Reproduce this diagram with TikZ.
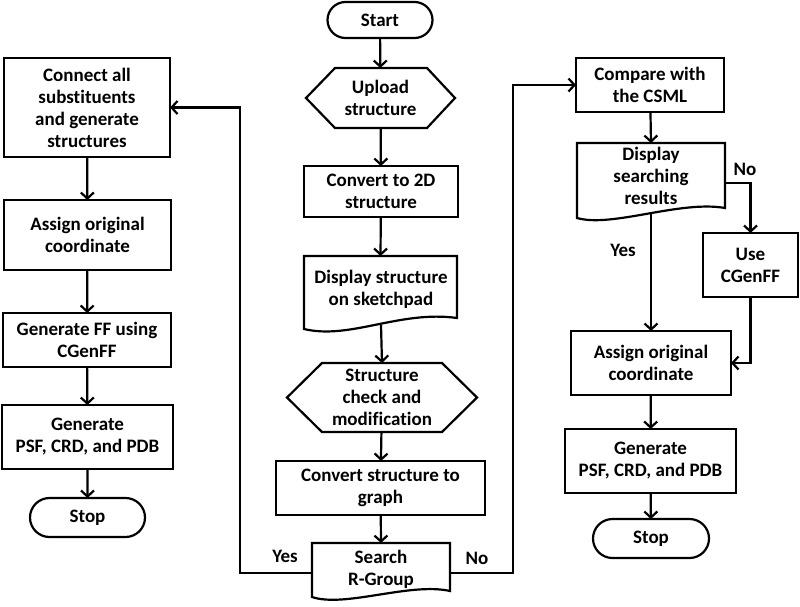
\documentclass[tikz,border=0pt]{standalone}
\usepackage{fontspec}
\setmainfont{Carlito}[Ligatures=CommonOff]
\usetikzlibrary{arrows.meta,shapes.misc}
\begin{document}
\begin{tikzpicture}[x=1pt,y=-1pt,
  every node/.style={font=\bfseries\fontsize{19}{22}\selectfont, align=center, inner sep=0pt, outer sep=0pt},
  box/.style 2 args={draw, line width=2.2pt, rectangle, minimum width=#1pt, minimum height=#2pt},
  term/.style 2 args={draw, line width=2.2pt, rounded rectangle, minimum width=#1pt, minimum height=#2pt},
  area/.style 2 args={rectangle, minimum width=#1pt, minimum height=#2pt},
  outline/.style={line width=2.2pt, line join=miter},
  conn/.style={line width=2.2pt, -{Straight Barb[length=6pt,width=13pt,line width=2.2pt]}},
  lab/.style={font=\bfseries\fontsize{19}{22}\selectfont}
]
\useasboundingbox (0,0) rectangle (800,606);

% ---------- centre column ----------
\node[term={105}{36}] (start) at (380,20) {Start};

\node[area={149}{60}] (upload) at (380.5,98) {Upload\\structure};
\draw[outline] (306,98) -- (335,68) -- (427,68) -- (455,98) -- (427,128) -- (335,128) -- cycle;

\node[box={154}{51}] (conv) at (381,191.5) {Convert to 2D\\structure};

\node[area={153}{73}] (disp) at (380.5,292.5) {};
\node[lab] (disptext) at (381,289) {Display structure\\on sketchpad};
\draw[outline] (304,329) -- (304,256) -- (457,256) -- (457,318)
  .. controls (400,310) and (350,340) .. cycle;
\coordinate (dispB) at (381,325);

\node[area={190}{69}] (check) at (382,397.5) {Structure\\check and\\modification};
\draw[outline] (287,397.5) -- (322,363) -- (442,363) -- (477,397.5) -- (442,432) -- (322,432) -- cycle;

\node[box={209}{54}] (graph) at (380.5,488) {Convert structure to\\graph};

\node[area={138}{54}] (search) at (381,570) {};
\node[lab] (searchtext) at (381,569) {Search\\R-Group};
\draw[outline] (312,597) -- (312,543) -- (450,543) -- (450,591)
  .. controls (410,582) and (345,608) .. cycle;

\coordinate (yesc) at (240,573);
\coordinate (noc) at (513,573);

% ---------- left column ----------
\node[box={166}{99}] (connect) at (87,107.5) {Connect all\\substituents\\and generate\\structures};
\node[box={167}{70}] (assignL) at (87.5,235) {Assign original\\coordinate};
\node[box={168}{54}] (genff) at (87,340) {Generate FF using\\CGenFF};
\node[box={171}{64}] (genL) at (87.5,437) {Generate\\PSF, CRD, and PDB};
\node[term={115}{39}] (stopL) at (87.5,517.5) {Stop};

% ---------- right column ----------
\node[box={148}{54}] (compare) at (650,85) {Compare with\\the CSML};

\node[area={148}{75}] (dispR) at (651,180.5) {};
\node[lab] (dispRtext) at (651,176) {Display\\searching\\results};
\draw[outline] (577,218) -- (577,143) -- (725,143) -- (725,208)
  .. controls (680,200) and (612,228) .. cycle;
\coordinate (dispRB) at (651,214);
\coordinate (dispRE) at (725,183);

\node[box={95}{64}] (use) at (750.5,265) {Use\\CGenFF};
\node[box={160}{64}] (assignR) at (651,363) {Assign original\\coordinate};
\node[box={171}{64}] (genR) at (650.5,461) {Generate\\PSF, CRD, and PDB};
\node[term={116}{39}] (stopR) at (651,538.5) {Stop};

% ---------- connectors ----------
\draw[conn] (start) -- (upload);
\draw[conn] (upload) -- (conv);
\draw[conn] (conv) -- (disp.north);
\draw[conn] (dispB) -- (check.north);
\draw[conn] (check) -- (graph);
\draw[conn] (graph) -- (search.north);

\draw[conn] (search.west |- yesc) -- (yesc) |- (connect.east);
\node[lab] (yes1) at (285,556) {Yes};
\draw[conn] (search.east |- noc) -- (noc) |- (compare.west);
\node[lab] (no1) at (477,558) {No};

\draw[conn] (connect) -- (assignL);
\draw[conn] (assignL) -- (genff);
\draw[conn] (genff) -- (genL);
\draw[conn] (genL) -- (stopL);

\draw[conn] (compare) -- (dispR.north);
\draw[conn] (dispRE) -| (use.north);
\node[lab] (no2) at (745,169) {No};
\draw[conn] (dispRB) -- (assignR.north);
\node[lab] (yes2) at (623,250) {Yes};
\draw[conn] (use.south) |- (assignR.east);

\draw[conn] (assignR) -- (genR);
\draw[conn] (genR) -- (stopR);
\end{tikzpicture}
\end{document}
